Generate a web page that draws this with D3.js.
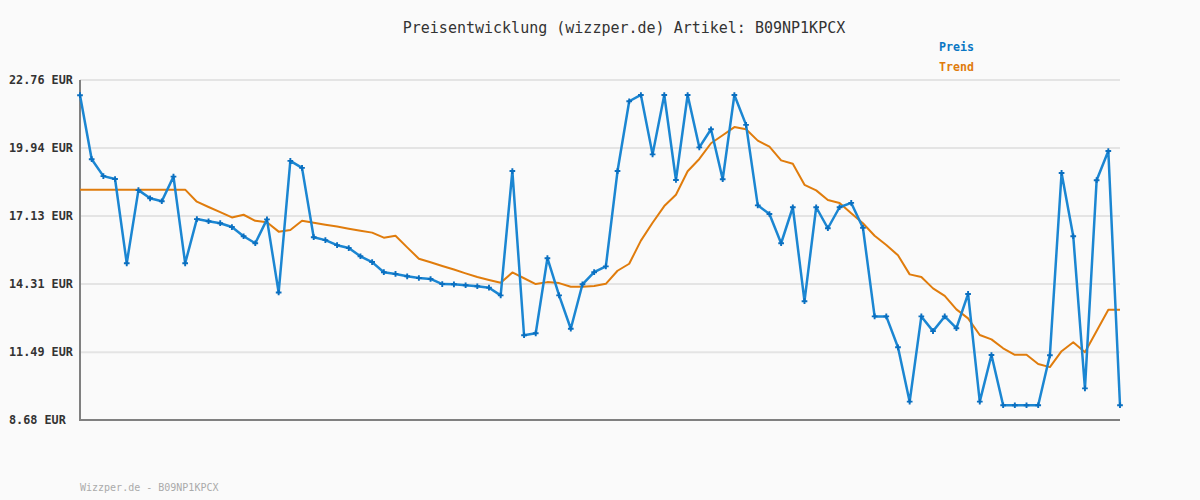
<!DOCTYPE html>
<html>
<head>
<meta charset="utf-8">
<script src="https://cdn.jsdelivr.net/npm/d3@7"></script>
<style>
  html, body { margin: 0; padding: 0; background: #fafafa; }
  svg { display: block; }
</style>
</head>
<body>
<svg id="chart" width="1200" height="500"></svg>
<script>
const title = "Preisentwicklung (wizzper.de) Artikel: B09NP1KPCX";
const footer = "Wizzper.de - B09NP1KPCX";
const seriesNames = ["Preis", "Trend"];
const yTicks = [8.68, 11.49, 14.31, 17.13, 19.94, 22.76];

const preis = [22.13, 19.48, 18.78, 18.66, 15.17, 18.20, 17.86, 17.74, 18.76, 15.17,
  17.00, 16.91, 16.83, 16.67, 16.29, 16.00, 16.99, 13.96, 19.41, 19.12,
  16.25, 16.13, 15.92, 15.80, 15.46, 15.22, 14.80, 14.73, 14.63, 14.56,
  14.52, 14.31, 14.30, 14.26, 14.22, 14.16, 13.84, 18.99, 12.19, 12.27,
  15.38, 13.84, 12.46, 14.30, 14.80, 15.04, 18.99, 21.88, 22.14, 19.68,
  22.14, 18.62, 22.14, 19.97, 20.72, 18.65, 22.14, 20.90, 17.57, 17.21,
  16.00, 17.49, 13.60, 17.49, 16.62, 17.49, 17.67, 16.64, 12.97, 12.97,
  11.69, 9.44, 12.97, 12.36, 12.97, 12.48, 13.90, 9.44, 11.37, 9.29,
  9.29, 9.29, 9.29, 11.36, 18.91, 16.29, 9.99, 18.61, 19.82, 9.29];

const trend = [18.22, 18.22, 18.22, 18.22, 18.22, 18.22, 18.22, 18.22, 18.22, 18.22,
  17.72, 17.50, 17.29, 17.07, 17.18, 16.93, 16.87, 16.48, 16.55, 16.93,
  16.85, 16.77, 16.69, 16.60, 16.52, 16.44, 16.23, 16.31, 15.83, 15.36,
  15.21, 15.06, 14.91, 14.75, 14.60, 14.48, 14.36, 14.79, 14.55, 14.31,
  14.39, 14.35, 14.20, 14.20, 14.23, 14.32, 14.86, 15.15, 16.11, 16.85,
  17.54, 18.01, 18.98, 19.49, 20.14, 20.47, 20.81, 20.72, 20.25, 20.00,
  19.43, 19.29, 18.42, 18.19, 17.79, 17.67, 17.24, 16.83, 16.31, 15.93,
  15.50, 14.71, 14.60, 14.13, 13.82, 13.26, 12.89, 12.20, 12.02, 11.65,
  11.38, 11.38, 11.00, 10.87, 11.53, 11.90, 11.49, 12.37, 13.25, 13.25];

const svg = d3.select("#chart");
const mono = "'DejaVu Sans Mono', monospace";
const mLeft = 80, mRight = 1120, mTop = 80, mBottom = 420;

svg.append("rect").attr("width", 1200).attr("height", 500).attr("fill", "#fafafa");

const x = d3.scaleLinear().domain([0, preis.length - 1]).range([mLeft, mRight]);
const y = d3.scaleLinear().domain([yTicks[0], yTicks[yTicks.length - 1]]).range([mBottom, mTop]);

// gridlines
svg.append("g").selectAll("line").data(yTicks.slice(1)).join("line")
  .attr("x1", mLeft).attr("x2", mRight)
  .attr("y1", d => y(d)).attr("y2", d => y(d))
  .attr("stroke", "#e4e4e4").attr("stroke-width", 2);

// y labels
svg.append("g").selectAll("text").data(yTicks).join("text")
  .attr("x", 9).attr("y", d => y(d))
  .attr("dy", "0.35em")
  .attr("font-family", mono).attr("font-size", 11.8).attr("font-weight", "bold")
  .attr("fill", "#333")
  .text(d => d.toFixed(2) + " EUR");

// axes
svg.append("line").attr("x1", mLeft).attr("x2", mLeft).attr("y1", mTop).attr("y2", mBottom + 1)
  .attr("stroke", "#808080").attr("stroke-width", 2);
svg.append("line").attr("x1", mLeft - 1).attr("x2", mRight).attr("y1", mBottom).attr("y2", mBottom)
  .attr("stroke", "#808080").attr("stroke-width", 2);

// trend line
const line = d3.line().x((d, i) => x(i)).y(d => y(d));
svg.append("path").datum(trend).attr("d", line)
  .attr("fill", "none").attr("stroke", "#e07c0c").attr("stroke-width", 2)
  .attr("stroke-linejoin", "round");

// price line
svg.append("path").datum(preis).attr("d", line)
  .attr("fill", "none").attr("stroke", "#1b86d2").attr("stroke-width", 2.5)
  .attr("stroke-linejoin", "round");

// markers
const cross = d3.symbol().type(d3.symbolCross).size(18);
svg.append("g").selectAll("path").data(preis).join("path")
  .attr("d", cross)
  .attr("transform", (d, i) => `translate(${x(i)},${y(d)})`)
  .attr("fill", "#0a6fc0");

// title
svg.append("text").attr("x", 624).attr("y", 33)
  .attr("text-anchor", "middle")
  .attr("font-family", mono).attr("font-size", 15)
  .attr("fill", "#333").text(title);

// legend
const legendColors = ["#0a77c4", "#e07c0c"];
svg.append("g").selectAll("text").data(seriesNames).join("text")
  .attr("x", 939).attr("y", (d, i) => 51 + i * 20)
  .attr("font-family", mono).attr("font-size", 11.6).attr("font-weight", "bold")
  .attr("fill", (d, i) => legendColors[i])
  .text(d => d);

// footer
svg.append("text").attr("x", 80).attr("y", 491)
  .attr("font-family", mono).attr("font-size", 10)
  .attr("fill", "#aaaaaa").text(footer);
</script>
</body>
</html>
